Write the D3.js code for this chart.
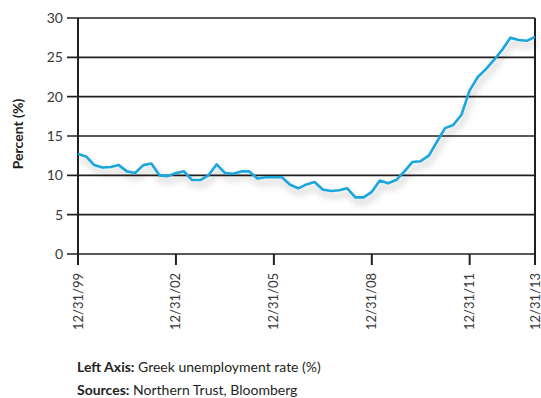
<!DOCTYPE html>
<html><head><meta charset="utf-8">
<script src="https://cdn.jsdelivr.net/npm/d3@7"></script>
<style>body{margin:0;background:#fff;}svg{display:block;font-family:Lato,"Open Sans",sans-serif;}</style>
</head><body><svg id="c" width="541" height="398"></svg>
<script>
const startDate = "1999-12-31";
const rates = [12.7,12.4,11.3,11.0,11.05,11.3,10.5,10.3,11.3,11.5,10.0,9.9,10.3,10.5,9.4,9.4,10.0,11.4,10.3,10.2,10.5,10.5,9.6,9.75,9.75,9.75,8.8,8.35,8.85,9.15,8.2,8.0,8.1,8.35,7.2,7.2,7.9,9.35,9.0,9.4,10.5,11.7,11.8,12.5,14.3,16.0,16.4,17.7,20.8,22.5,23.5,24.7,26.0,27.5,27.2,27.1,27.6];
const tickDates = ["1999-12-31","2002-12-31","2005-12-31","2008-12-31","2011-12-31","2013-12-31"];
const tickLabels = ["12/31/99","12/31/02","12/31/05","12/31/08","12/31/11","12/31/13"];
const yTicks = [0,5,10,15,20,25,30];

const parse = d3.timeParse("%Y-%m-%d");
const t0 = parse(startDate);
const data = rates.map((v,i)=>({d: d3.timeDay.offset(d3.timeMonth.offset(d3.timeDay.offset(t0,1), 3*i),-1), v}));

const svg = d3.select("#c");
const L=78, R=535, T=18, B=254;
const x = d3.scaleTime().domain([parse(tickDates[0]), parse(tickDates[5])]).range([L,R]);
const y = d3.scaleLinear().domain([0,30]).range([B,T]);
const ink = "#231f20";

const defs = svg.append("defs");
const f = defs.append("filter").attr("id","sh").attr("x","-10%").attr("y","-20%").attr("width","130%").attr("height","160%");
f.append("feDropShadow").attr("dx",2).attr("dy",5).attr("stdDeviation",3.5).attr("flood-color","#000").attr("flood-opacity",0.28);

svg.append("g").selectAll("line").data(yTicks).join("line")
 .attr("x1",L-11).attr("x2",R).attr("y1",d=>y(d)).attr("y2",d=>y(d))
 .attr("stroke",ink).attr("stroke-width",1.6);
svg.append("g").selectAll("text").data(yTicks).join("text")
 .attr("x",L-15).attr("y",d=>y(d)).attr("dy","0.35em").attr("text-anchor","end")
 .attr("font-size",14).attr("fill","#3a3a3a").text(d=>d);
svg.append("line").attr("x1",L).attr("x2",L).attr("y1",T).attr("y2",B+11).attr("stroke",ink).attr("stroke-width",2);
svg.append("line").attr("x1",R).attr("x2",R).attr("y1",T).attr("y2",B+11).attr("stroke",ink).attr("stroke-width",2);
const xd = tickDates.map(parse);
svg.append("g").selectAll("line").data(xd).join("line")
 .attr("x1",d=>x(d)).attr("x2",d=>x(d)).attr("y1",B).attr("y2",B+11)
 .attr("stroke",ink).attr("stroke-width",2);
svg.append("g").selectAll("text").data(xd).join("text")
 .attr("transform",d=>`translate(${x(d)+4.5},${B+19}) rotate(-90)`)
 .attr("text-anchor","end").attr("font-size",13).attr("fill","#3a3a3a")
 .text((d,i)=>tickLabels[i]);

const line = d3.line().x(p=>x(p.d)).y(p=>y(p.v));
svg.append("path").datum(data).attr("d",line).attr("fill","none")
 .attr("stroke","#1aa6dc").attr("stroke-width",2.6).attr("stroke-linejoin","round")
 .attr("filter","url(#sh)");

svg.append("text").attr("transform","translate(23,134) rotate(-90)")
 .attr("text-anchor","middle").attr("font-size",14).attr("font-weight","bold").attr("fill",ink)
 .text("Percent (%)");

const fn1 = svg.append("text").attr("x",77).attr("y",372).attr("font-size",14).attr("fill",ink);
fn1.append("tspan").attr("font-weight","bold").text("Left Axis:");
fn1.append("tspan").text(" Greek unemployment rate (%)");
const fn2 = svg.append("text").attr("x",77).attr("y",395).attr("font-size",14).attr("fill",ink);
fn2.append("tspan").attr("font-weight","bold").text("Sources:");
fn2.append("tspan").text(" Northern Trust, Bloomberg");
</script></body></html>
